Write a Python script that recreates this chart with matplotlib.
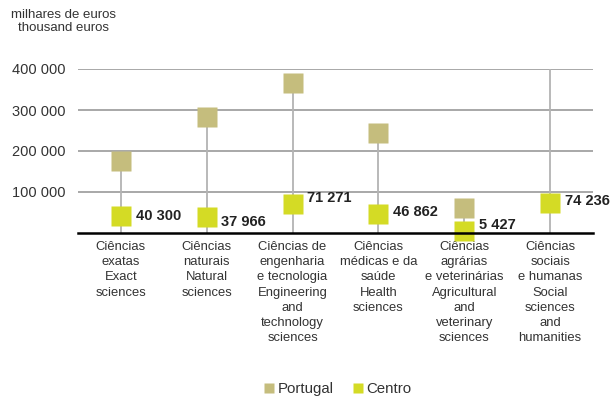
import matplotlib
matplotlib.use("Agg")
import matplotlib.pyplot as plt
from matplotlib.lines import Line2D

plt.rcParams['font.family'] = ['Liberation Sans', 'DejaVu Sans']

categories = [
    "Ciências\nexatas\nExact\nsciences",
    "Ciências\nnaturais\nNatural\nsciences",
    "Ciências de\nengenharia\ne tecnologia\nEngineering\nand\ntechnology\nsciences",
    "Ciências\nmédicas e da\nsaúde\nHealth\nsciences",
    "Ciências\nagrárias\ne veterinárias\nAgricultural\nand\nveterinary\nsciences",
    "Ciências\nsociais\ne humanas\nSocial\nsciences\nand\nhumanities",
]
portugal = [176800, 282400, 365000, 243000, 60000, 450000]
centro = [40300, 37966, 71271, 46862, 5427, 74236]
yticks = [100000, 200000, 300000, 400000]

# vertical nudges (points) for the value labels so they don't collide
label_dy = [0, -3, 4, 1, 4, 1]

col_pt = "#C5BD7D"
col_ce = "#D4DB25"

W, H, DPI = 613, 396, 100
fig = plt.figure(figsize=(W / DPI, H / DPI), dpi=DPI)
ax = fig.add_axes([78 / W, 1 - 233 / H, (593 - 78) / W, (233 - 69) / H])

x = list(range(len(categories)))
ax.set_xlim(-0.5, len(categories) - 0.5)
ax.set_ylim(0, 400000)

# gridlines
for t in yticks:
    ax.axhline(t, color="#9a9a9a", lw=1.2, zorder=1)

# drop lines from the Portugal value down to zero
ax.vlines(x, 0, portugal, color="#b3b3b3", lw=1.3, zorder=2)

ax.plot(x, portugal, ls="none", marker="s", ms=13.7, color=col_pt,
        mec="none", zorder=3)
ax.plot(x, centro, ls="none", marker="s", ms=13.7, color=col_ce,
        mec="none", zorder=4, clip_on=False)

for xi, v, dy in zip(x, centro, label_dy):
    ax.annotate(f"{v:,}".replace(",", " "), (xi, v), xytext=(10.5, dy),
                textcoords="offset points", ha="left", va="center",
                fontsize=10.5, fontweight="bold", color="#222222", zorder=5)

ax.set_yticks(yticks)
ax.set_yticklabels([f"{t:,}".replace(",", " ") for t in yticks],
                   fontsize=10.5, color="#333333")
ax.set_xticks(x)
ax.set_xticklabels(categories, fontsize=9.4, color="#333333", linespacing=1.34)
ax.tick_params(axis="both", length=0)
ax.tick_params(axis="y", pad=9)
ax.tick_params(axis="x", pad=6)

for s in ["top", "right", "left"]:
    ax.spines[s].set_visible(False)
ax.spines["bottom"].set_color("black")
ax.spines["bottom"].set_linewidth(1.8)
ax.spines["bottom"].set_zorder(6)

fig.text(63.5 / W, 1 - 9 / H, "milhares de euros\nthousand euros",
         ha="center", va="top", multialignment="center", fontsize=9.5,
         color="#333333", linespacing=1.1)

handles = [
    Line2D([], [], ls="none", marker="s", ms=6.5, color=col_pt, mec="none"),
    Line2D([], [], ls="none", marker="s", ms=6.5, color=col_ce, mec="none"),
]
fig.legend(handles, ["Portugal", "Centro"], loc="center",
           bbox_to_anchor=(338 / W, 1 - 389 / H), ncol=2, frameon=False,
           fontsize=10.8, handlelength=0.6, handletextpad=0.25,
           columnspacing=1.3, labelcolor="#333333")

fig.savefig("out.png", dpi=DPI)
